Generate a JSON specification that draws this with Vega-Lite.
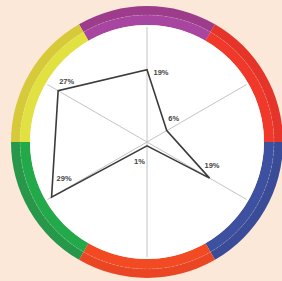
{
  "$schema": "https://vega.github.io/schema/vega-lite/v6.json",
  "width": 272,
  "height": 272,
  "padding": {"left": 11, "top": 6, "right": 0, "bottom": 3},
  "autosize": {"type": "none"},
  "background": "#fce8d8",
  "config": {"view": {"stroke": null}},
  "datasets": {
    "ring": [
      {"seg": "purple", "i": 0, "w": 1},
      {"seg": "red", "i": 1, "w": 1},
      {"seg": "blue", "i": 2, "w": 1},
      {"seg": "orange", "i": 3, "w": 1},
      {"seg": "green", "i": 4, "w": 1},
      {"seg": "yellow", "i": 5, "w": 1}
    ],
    "pts": [
      {"i": 0, "v": 19, "lab": "19%"},
      {"i": 1, "v": 6, "lab": "6%"},
      {"i": 2, "v": 19, "lab": "19%"},
      {"i": 3, "v": 1, "lab": "1%"},
      {"i": 4, "v": 29, "lab": "29%"},
      {"i": 5, "v": 27, "lab": "27%"}
    ]
  },
  "layer": [
    {
      "data": {"name": "ring"},
      "mark": {"type": "arc", "radius": 136, "radius2": 127},
      "encoding": {
        "theta": {"field": "w", "type": "quantitative", "stack": true, "scale": {"range": [-0.5236, 5.7596]}},
        "order": {"field": "i"},
        "color": {"field": "seg", "type": "nominal", "legend": null,
          "scale": {"domain": ["purple", "red", "blue", "orange", "green", "yellow"],
                    "range": ["#9c3c8b", "#e5352a", "#3a4c97", "#ea4624", "#27974a", "#d6ca3a"]}}
      }
    },
    {
      "data": {"name": "ring"},
      "mark": {"type": "arc", "radius": 127, "radius2": 117},
      "encoding": {
        "theta": {"field": "w", "type": "quantitative", "stack": true, "scale": {"range": [-0.5236, 5.7596]}},
        "order": {"field": "i"},
        "fill": {"field": "seg", "type": "nominal", "legend": null,
          "scale": {"domain": ["purple", "red", "blue", "orange", "green", "yellow"],
                    "range": ["#a845a0", "#f0392b", "#3e51a0", "#f24a23", "#22aa4a", "#e1e142"]}}
      }
    },
    {
      "data": {"values": [{"c": 0}]},
      "mark": {"type": "point", "shape": "circle", "size": 64516, "filled": false, "stroke": "#ffffff", "strokeWidth": 0.6, "strokeDash": [2, 2], "strokeOpacity": 0.45},
      "encoding": {
        "x": {"field": "c", "type": "quantitative", "scale": {"domain": [-35.79, 35.79], "nice": false, "zero": false}, "axis": null},
        "y": {"field": "c", "type": "quantitative", "scale": {"domain": [-35.79, 35.79], "nice": false, "zero": false}, "axis": null}
      }
    },
    {
      "data": {"values": [{"c": 0}]},
      "mark": {"type": "point", "shape": "circle", "size": 54756, "filled": true, "fill": "#ffffff", "opacity": 1, "strokeWidth": 0},
      "encoding": {
        "x": {"field": "c", "type": "quantitative", "scale": {"domain": [-35.79, 35.79], "nice": false, "zero": false}, "axis": null},
        "y": {"field": "c", "type": "quantitative", "scale": {"domain": [-35.79, 35.79], "nice": false, "zero": false}, "axis": null}
      }
    },
    {
      "data": {"name": "pts"},
      "transform": [
        {"calculate": "PI/2 - datum.i*PI/3", "as": "ang"},
        {"calculate": "30.26*cos(datum.ang)", "as": "ax"},
        {"calculate": "30.26*sin(datum.ang)", "as": "ay"},
        {"calculate": "0", "as": "c"}
      ],
      "mark": {"type": "rule", "stroke": "#c4c4c4", "strokeWidth": 1},
      "encoding": {
        "x": {"field": "c", "type": "quantitative", "scale": {"domain": [-35.79, 35.79], "nice": false, "zero": false}, "axis": null},
        "y": {"field": "c", "type": "quantitative", "scale": {"domain": [-35.79, 35.79], "nice": false, "zero": false}, "axis": null},
        "x2": {"field": "ax"},
        "y2": {"field": "ay"}
      }
    },
    {
      "data": {"name": "pts"},
      "transform": [
        {"calculate": "PI/2 - datum.i*PI/3", "as": "ang"},
        {"calculate": "datum.v*cos(datum.ang)", "as": "px"},
        {"calculate": "datum.v*sin(datum.ang)", "as": "py"}
      ],
      "mark": {"type": "line", "interpolate": "linear-closed", "stroke": "#3c3c3c", "strokeWidth": 1.6},
      "encoding": {
        "x": {"field": "px", "type": "quantitative", "scale": {"domain": [-35.79, 35.79], "nice": false, "zero": false}, "axis": null},
        "y": {"field": "py", "type": "quantitative", "scale": {"domain": [-35.79, 35.79], "nice": false, "zero": false}, "axis": null},
        "order": {"field": "i"}
      }
    },
    {
      "data": {"name": "pts"},
      "transform": [
        {"calculate": "PI/2 - datum.i*PI/3", "as": "ang"},
        {"calculate": "datum.v*cos(datum.ang)", "as": "px"},
        {"calculate": "datum.v*sin(datum.ang)", "as": "py"}
      ],
      "layer": [
        {"transform": [{"filter": "datum.i == 0"}], "mark": {"type": "text", "dx": 14, "dy": 3, "fontSize": 7.5, "fontWeight": "bold", "font": "Liberation Sans", "fill": "#444444"}},
        {"transform": [{"filter": "datum.i == 1"}], "mark": {"type": "text", "dx": 7, "dy": -12, "fontSize": 7.5, "fontWeight": "bold", "font": "Liberation Sans", "fill": "#444444"}},
        {"transform": [{"filter": "datum.i == 2"}], "mark": {"type": "text", "dx": 2.5, "dy": -12, "fontSize": 7.5, "fontWeight": "bold", "font": "Liberation Sans", "fill": "#444444"}},
        {"transform": [{"filter": "datum.i == 3"}], "mark": {"type": "text", "dx": -7.5, "dy": 16, "fontSize": 7.5, "fontWeight": "bold", "font": "Liberation Sans", "fill": "#444444"}},
        {"transform": [{"filter": "datum.i == 4"}], "mark": {"type": "text", "dx": 12.5, "dy": -18, "fontSize": 7.5, "fontWeight": "bold", "font": "Liberation Sans", "fill": "#444444"}},
        {"transform": [{"filter": "datum.i == 5"}], "mark": {"type": "text", "dx": 8.5, "dy": -9, "fontSize": 7.5, "fontWeight": "bold", "font": "Liberation Sans", "fill": "#444444"}}
      ],
      "encoding": {
        "x": {"field": "px", "type": "quantitative", "scale": {"domain": [-35.79, 35.79], "nice": false, "zero": false}, "axis": null},
        "y": {"field": "py", "type": "quantitative", "scale": {"domain": [-35.79, 35.79], "nice": false, "zero": false}, "axis": null},
        "text": {"field": "lab"}
      }
    }
  ],
  "resolve": {"scale": {"color": "independent"}}
}
